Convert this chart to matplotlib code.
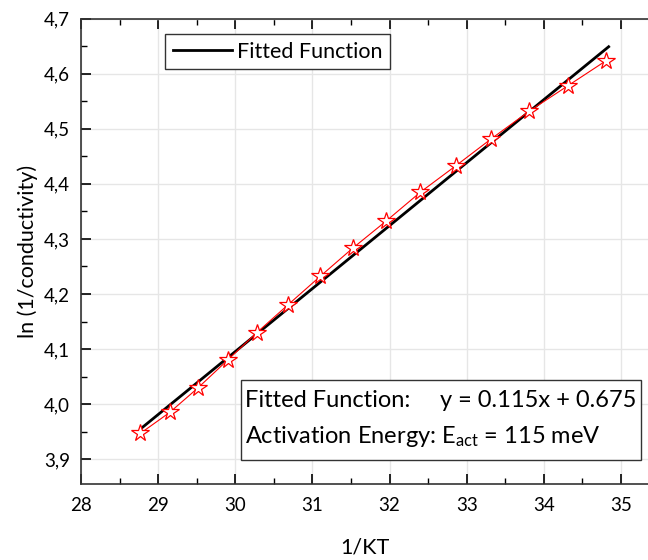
import numpy as np
import matplotlib
matplotlib.use("Agg")
import matplotlib.pyplot as plt
from matplotlib.ticker import MultipleLocator, FuncFormatter
from matplotlib.patches import Rectangle

plt.rcParams['font.family'] = ['Lato', 'DejaVu Sans']
plt.rcParams['mathtext.fontset'] = 'custom'
plt.rcParams['mathtext.rm'] = 'Lato'
plt.rcParams['mathtext.it'] = 'Lato'

# measured points
inv_kt = [28.77, 29.15, 29.52, 29.90, 30.28, 30.68, 31.10, 31.52,
          31.96, 32.40, 32.86, 33.32, 33.81, 34.31, 34.81]
ln_inv_cond = [3.947, 3.985, 4.030, 4.080, 4.130, 4.180, 4.232, 4.283,
               4.333, 4.385, 4.433, 4.482, 4.532, 4.578, 4.624]

# fitted line endpoints
fit_x = [28.78, 34.84]
fit_y = [3.956, 4.649]

fig = plt.figure(figsize=(6.48, 5.6), dpi=100)
ax = fig.add_axes([0.125, 0.1357, 0.875, 0.831])

ax.plot(fit_x, fit_y, color='black', lw=2, label='Fitted Function', zorder=3)
ax.plot(inv_kt, ln_inv_cond, color='red', lw=0.8, marker='*', ms=13,
        mfc='white', mec='red', mew=0.9, zorder=4)

ax.set_xlim(28, 35.35)
ax.set_ylim(3.855, 4.7)
ax.xaxis.set_major_locator(MultipleLocator(1))
ax.xaxis.set_minor_locator(MultipleLocator(0.5))
ax.yaxis.set_major_locator(MultipleLocator(0.1))
ax.yaxis.set_minor_locator(MultipleLocator(0.05))
ax.yaxis.set_major_formatter(FuncFormatter(lambda v, p: f"{v:.1f}".replace('.', ',')))

ax.tick_params(which='both', direction='in', top=True, right=False, labelsize=13.5)
ax.tick_params(which='major', length=7, width=1.2)
ax.tick_params(which='minor', length=4, width=1)
ax.tick_params(axis='x', pad=9)
ax.tick_params(axis='y', pad=8)
ax.spines['right'].set_visible(False)
for s in ['left', 'bottom', 'top']:
    ax.spines[s].set_linewidth(1.2)
    ax.spines[s].set_color('#333333')

ax.grid(True, which='major', color='#e6e6e6', lw=1)
ax.set_axisbelow(True)

ax.set_xlabel('1/KT', fontsize=15.5, labelpad=17)
ax.set_ylabel('ln (1/conductivity)', fontsize=15.5, labelpad=4)

leg = ax.legend(loc='upper left', bbox_to_anchor=(0.2546, 0.9393),
                bbox_transform=fig.transFigure, fontsize=15.5, fancybox=False,
                edgecolor='#333333', framealpha=1, handlelength=2.75,
                handletextpad=0.25, borderpad=0.35, borderaxespad=0)
leg.get_frame().set_linewidth(1)

# annotation box
fig.patches.append(Rectangle((0.372, 0.1786), 0.617, 0.1428, transform=fig.transFigure,
                             fill=True, facecolor='white', edgecolor='#333333', lw=1, zorder=5))
fig.text(0.378, 0.284, 'Fitted Function:', fontsize=17, va='center', ha='left', zorder=6)
fig.text(0.982, 0.284, 'y = 0.115x + 0.675', fontsize=17, va='center', ha='right', zorder=6)
fig.text(0.378, 0.221, 'Activation Energy: E$_{\\mathrm{act}}$ = 115 meV', fontsize=17,
         va='center', ha='left', zorder=6)

fig.savefig('out.png', dpi=100)
